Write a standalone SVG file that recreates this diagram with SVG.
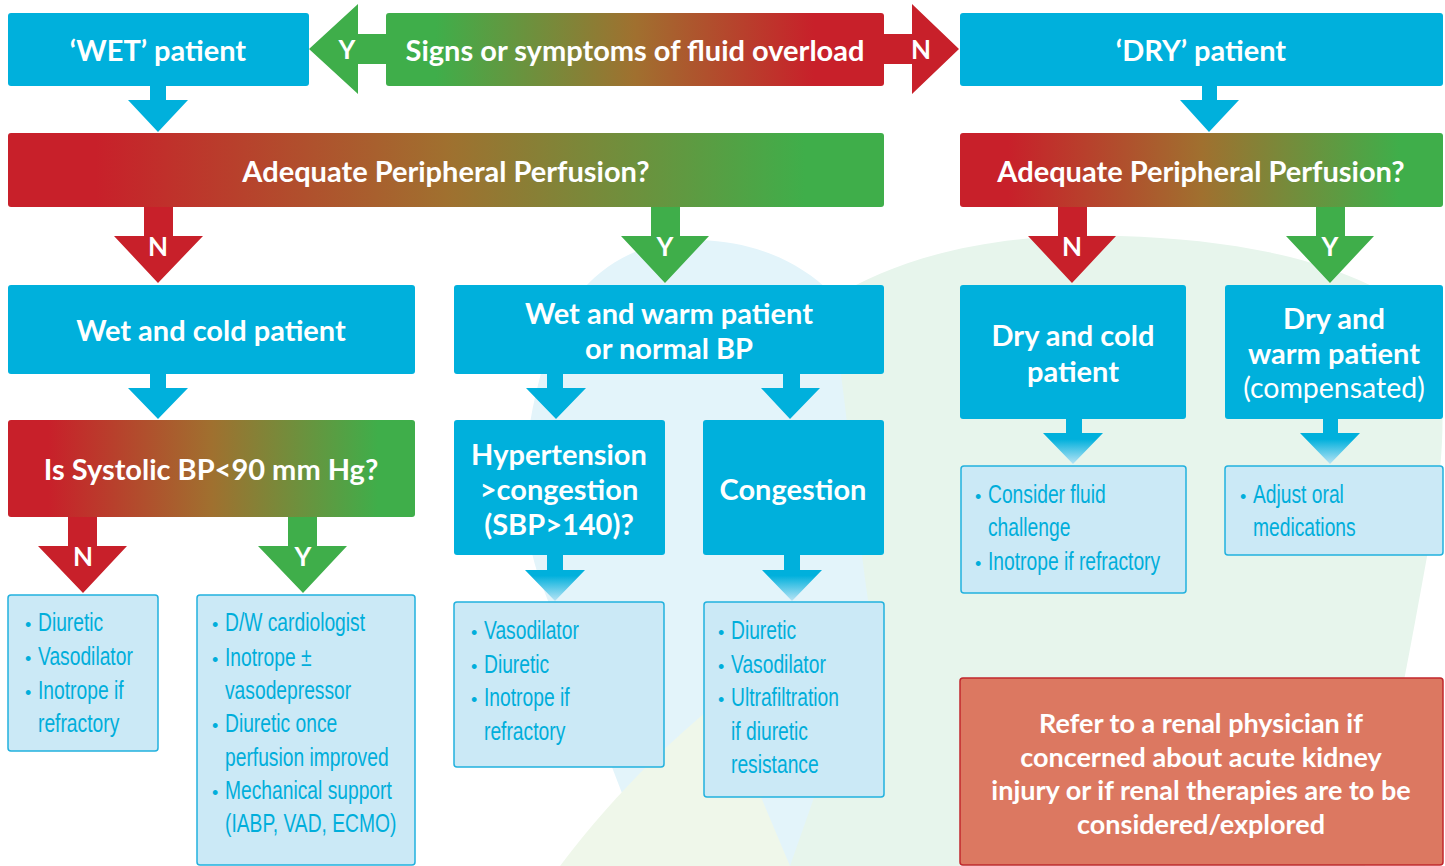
<svg xmlns="http://www.w3.org/2000/svg" width="1445" height="866" viewBox="0 0 1445 866">
  <defs>
    <linearGradient id="gSigns" x1="0" y1="0" x2="1" y2="0">
      <stop offset="0" stop-color="#3fae4a"/>
      <stop offset="0.1" stop-color="#3fae4a"/>
      <stop offset="0.5" stop-color="#a0702f"/>
      <stop offset="0.86" stop-color="#c8202a"/>
      <stop offset="1" stop-color="#c8202a"/>
    </linearGradient>
    <linearGradient id="gRG" x1="0" y1="0" x2="1" y2="0">
      <stop offset="0" stop-color="#c8202a"/>
      <stop offset="0.1" stop-color="#c8202a"/>
      <stop offset="0.5" stop-color="#a0702f"/>
      <stop offset="0.91" stop-color="#3fae4a"/>
      <stop offset="1" stop-color="#3fae4a"/>
    </linearGradient>
    <linearGradient id="gFade" x1="0" y1="0" x2="0" y2="1">
      <stop offset="0" stop-color="#00b0dc"/>
      <stop offset="0.45" stop-color="#00b0dc"/>
      <stop offset="1" stop-color="#b9e4f5"/>
    </linearGradient>
    <style>
      .blue { fill: #00b0dc; }
      .red { fill: #c8202a; }
      .green { fill: #3fae4a; }
      .fade { fill: url(#gFade); }
      .list { fill: #cbe9f6; stroke: #22b1de; stroke-width: 1.5; }
      .head { font-family: "Lato", "Open Sans", sans-serif; font-weight: 700; fill: #ffffff; text-anchor: middle; font-size: 29px; }
      .reg { font-weight: 400; font-size: 28.5px; }
      .note { font-size: 27px; }
      .lbl { font-family: "Lato", "Open Sans", sans-serif; font-weight: 700; fill: #ffffff; font-size: 26px; text-anchor: middle; }
      .item { font-family: "Liberation Sans", sans-serif; fill: #00aedb; font-size: 25px; }
      .bul { font-family: "Liberation Sans", sans-serif; fill: #00aedb; font-size: 18px; }
    </style>
  </defs>

  <rect width="1445" height="866" fill="#ffffff"/>

  <!-- soft background leaves -->
  <g id="backdrop">
    <path d="M 700,240 C 620,238 565,290 545,360 C 520,440 518,520 540,580 L 650,866 L 800,866 C 840,760 880,640 900,520 C 915,400 860,245 700,240 Z" fill="#e3f4fa"/>
    <path d="M 830,300 C 900,255 1000,232 1120,236 C 1260,240 1380,270 1430,330 C 1450,390 1443,470 1430,540 C 1412,640 1390,760 1365,866 L 790,866 C 820,780 850,700 870,610 C 860,560 850,420 830,300 Z" fill="#e7f5ec"/>
    <path d="M 560,866 C 610,800 660,750 720,700 L 790,866 Z" fill="#eff7ea"/>
  </g>

  <!-- connectors: block arrows -->
  <g id="connectors">
    <!-- Y: fluid overload to WET -->
    <polygon class="green" points="386,34 358,34 358,4 309,49 358,94 358,64 386,64"/>
    <text class="lbl" x="347" y="59">Y</text>
    <!-- N: fluid overload to DRY -->
    <polygon class="red" points="884,34 912,34 912,4 959,49 912,94 912,64 884,64"/>
    <text class="lbl" x="921" y="59">N</text>

    <!-- WET to perfusion question -->
    <polygon class="blue" points="150,86 166,86 166,100 188,100 158,132 128,100 150,100"/>
    <!-- DRY to perfusion question -->
    <polygon class="blue" points="1202,86 1217,86 1217,100 1239,100 1209,132 1180,100 1202,100"/>

    <!-- left perfusion: N / Y -->
    <polygon class="red" points="144,207 173,207 173,236 203,236 158,283 114,236 144,236"/>
    <text class="lbl" x="158" y="256">N</text>
    <polygon class="green" points="651,207 680,207 680,236 709,236 665,283 621,236 651,236"/>
    <text class="lbl" x="665" y="256">Y</text>

    <!-- right perfusion: N / Y -->
    <polygon class="red" points="1058,207 1087,207 1087,236 1116,236 1072,283 1028,236 1058,236"/>
    <text class="lbl" x="1072" y="256">N</text>
    <polygon class="green" points="1316,207 1345,207 1345,236 1374,236 1330,283 1286,236 1316,236"/>
    <text class="lbl" x="1330" y="256">Y</text>

    <!-- wet and cold to systolic question -->
    <polygon class="blue" points="150,374 166,374 166,388 188,388 158,419 128,388 150,388"/>
    <!-- wet and warm to its two branches -->
    <polygon class="blue" points="547,374 563,374 563,388 586,388 556,419 526,388 547,388"/>
    <polygon class="blue" points="783,374 800,374 800,388 820,388 790,419 761,388 783,388"/>

    <!-- systolic question: N / Y -->
    <polygon class="red" points="68,517 97,517 97,546 127,546 83,593 38,546 68,546"/>
    <text class="lbl" x="83" y="566">N</text>
    <polygon class="green" points="288,517 317,517 317,546 347,546 303,593 258,546 288,546"/>
    <text class="lbl" x="303" y="566">Y</text>

    <!-- fading arrows into treatment lists -->
    <polygon class="fade" points="547,555 563,555 563,570 585,570 555,601 525,570 547,570"/>
    <polygon class="fade" points="784,555 800,555 800,570 822,570 792,601 762,570 784,570"/>
    <polygon class="fade" points="1066,419 1082,419 1082,433 1103,433 1073,464 1043,433 1066,433"/>
    <polygon class="fade" points="1323,419 1338,419 1338,433 1360,433 1330,464 1300,433 1323,433"/>
  </g>

  <!-- decision and state nodes -->
  <g id="node-signs">
    <rect x="386" y="13" width="498" height="73" rx="3" fill="url(#gSigns)"/>
    <text class="head" x="635" y="61" font-size="29.5">Signs or symptoms of fluid overload</text>
  </g>
  <g id="node-wet">
    <rect class="blue" x="8" y="13" width="301" height="73" rx="3"/>
    <text class="head" x="158" y="61">‘WET’ patient</text>
  </g>
  <g id="node-dry">
    <rect class="blue" x="960" y="13" width="483" height="73" rx="3"/>
    <text class="head" x="1201" y="61">‘DRY’ patient</text>
  </g>
  <g id="node-perfusion-wet">
    <rect x="8" y="133" width="876" height="74" rx="3" fill="url(#gRG)"/>
    <text class="head" x="446" y="182">Adequate Peripheral Perfusion?</text>
  </g>
  <g id="node-perfusion-dry">
    <rect x="960" y="133" width="483" height="74" rx="3" fill="url(#gRG)"/>
    <text class="head" x="1201" y="182">Adequate Peripheral Perfusion?</text>
  </g>
  <g id="node-wet-cold">
    <rect class="blue" x="8" y="285" width="407" height="89" rx="3"/>
    <text class="head" x="211" y="341">Wet and cold patient</text>
  </g>
  <g id="node-wet-warm">
    <rect class="blue" x="454" y="285" width="430" height="89" rx="3"/>
    <text class="head" x="669" y="324">Wet and warm patient</text>
    <text class="head" x="669" y="359">or normal BP</text>
  </g>
  <g id="node-dry-cold">
    <rect class="blue" x="960" y="285" width="226" height="134" rx="3"/>
    <text class="head" x="1073" y="346">Dry and cold</text>
    <text class="head" x="1073" y="382">patient</text>
  </g>
  <g id="node-dry-warm">
    <rect class="blue" x="1225" y="285" width="218" height="134" rx="3"/>
    <text class="head" x="1334" y="329">Dry and</text>
    <text class="head" x="1334" y="364">warm patient</text>
    <text class="head reg" x="1334" y="398">(compensated)</text>
  </g>
  <g id="node-systolic">
    <rect x="8" y="420" width="407" height="97" rx="3" fill="url(#gRG)"/>
    <text class="head" x="211" y="480">Is Systolic BP&lt;90 mm Hg?</text>
  </g>
  <g id="node-hypertension">
    <rect class="blue" x="454" y="420" width="211" height="135" rx="3"/>
    <text class="head" x="559" y="465">Hypertension</text>
    <text class="head" x="559" y="500">&gt;congestion</text>
    <text class="head" x="559" y="535">(SBP&gt;140)?</text>
  </g>
  <g id="node-congestion">
    <rect class="blue" x="703" y="420" width="181" height="135" rx="3"/>
    <text class="head" x="793" y="500">Congestion</text>
  </g>

  <!-- treatment lists (condensed lettering via horizontal scale) -->
  <g id="list-cold-n">
    <rect class="list" x="8" y="595" width="150" height="156" rx="3"/>
    <text class="bul" x="25" y="631">•</text>
    <text class="item" transform="translate(38,631) scale(0.77,1)">Diuretic</text>
    <text class="bul" x="25" y="665">•</text>
    <text class="item" transform="translate(38,665) scale(0.77,1)">Vasodilator</text>
    <text class="bul" x="25" y="699">•</text>
    <text class="item" transform="translate(38,699) scale(0.77,1)">Inotrope if</text>
    <text class="item" transform="translate(38,732) scale(0.77,1)">refractory</text>
  </g>
  <g id="list-cold-y">
    <rect class="list" x="197" y="595" width="218" height="270" rx="3"/>
    <text class="bul" x="212" y="631">•</text>
    <text class="item" transform="translate(225,631) scale(0.77,1)">D/W cardiologist</text>
    <text class="bul" x="212" y="666">•</text>
    <text class="item" transform="translate(225,666) scale(0.77,1)">Inotrope ±</text>
    <text class="item" transform="translate(225,699) scale(0.77,1)">vasodepressor</text>
    <text class="bul" x="212" y="732">•</text>
    <text class="item" transform="translate(225,732) scale(0.77,1)">Diuretic once</text>
    <text class="item" transform="translate(225,766) scale(0.77,1)">perfusion improved</text>
    <text class="bul" x="212" y="799">•</text>
    <text class="item" transform="translate(225,799) scale(0.77,1)">Mechanical support</text>
    <text class="item" transform="translate(225,832) scale(0.77,1)">(IABP, VAD, ECMO)</text>
  </g>
  <g id="list-hypertension">
    <rect class="list" x="454" y="602" width="210" height="165" rx="3"/>
    <text class="bul" x="471" y="639">•</text>
    <text class="item" transform="translate(484,639) scale(0.77,1)">Vasodilator</text>
    <text class="bul" x="471" y="673">•</text>
    <text class="item" transform="translate(484,673) scale(0.77,1)">Diuretic</text>
    <text class="bul" x="471" y="706">•</text>
    <text class="item" transform="translate(484,706) scale(0.77,1)">Inotrope if</text>
    <text class="item" transform="translate(484,740) scale(0.77,1)">refractory</text>
  </g>
  <g id="list-congestion">
    <rect class="list" x="704" y="602" width="180" height="195" rx="3"/>
    <text class="bul" x="718" y="639">•</text>
    <text class="item" transform="translate(731,639) scale(0.77,1)">Diuretic</text>
    <text class="bul" x="718" y="673">•</text>
    <text class="item" transform="translate(731,673) scale(0.77,1)">Vasodilator</text>
    <text class="bul" x="718" y="706">•</text>
    <text class="item" transform="translate(731,706) scale(0.77,1)">Ultrafiltration</text>
    <text class="item" transform="translate(731,740) scale(0.77,1)">if diuretic</text>
    <text class="item" transform="translate(731,773) scale(0.77,1)">resistance</text>
  </g>
  <g id="list-dry-cold">
    <rect class="list" x="961" y="466" width="225" height="127" rx="3"/>
    <text class="bul" x="975" y="503">•</text>
    <text class="item" transform="translate(988,503) scale(0.77,1)">Consider fluid</text>
    <text class="item" transform="translate(988,536) scale(0.77,1)">challenge</text>
    <text class="bul" x="975" y="570">•</text>
    <text class="item" transform="translate(988,570) scale(0.77,1)">Inotrope if refractory</text>
  </g>
  <g id="list-dry-warm">
    <rect class="list" x="1225" y="466" width="218" height="89" rx="3"/>
    <text class="bul" x="1240" y="503">•</text>
    <text class="item" transform="translate(1253,503) scale(0.77,1)">Adjust oral</text>
    <text class="item" transform="translate(1253,536) scale(0.77,1)">medications</text>
  </g>

  <!-- renal referral note -->
  <g id="node-renal">
    <rect x="960" y="678" width="483" height="187" rx="3" fill="#dc7861" stroke="#c1272d" stroke-width="1.5"/>
    <text class="head note" x="1201" y="733">Refer to a renal physician if</text>
    <text class="head note" x="1201" y="767">concerned about acute kidney</text>
    <text class="head note" x="1201" y="800">injury or if renal therapies are to be</text>
    <text class="head note" x="1201" y="834">considered/explored</text>
  </g>
</svg>
